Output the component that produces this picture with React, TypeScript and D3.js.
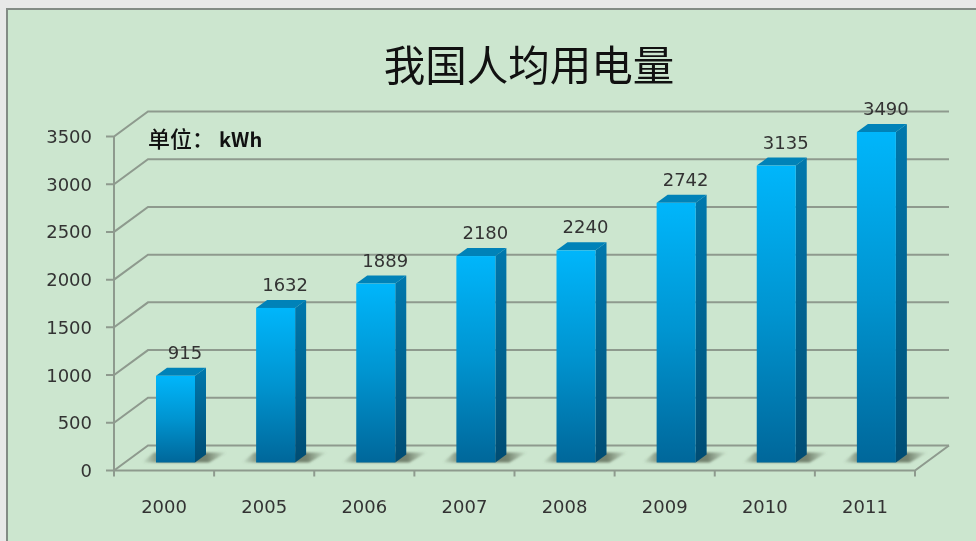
import React from 'react';
import * as d3 from 'd3';

const categories = ['2000', '2005', '2006', '2007', '2008', '2009', '2010', '2011'];
const values = [915, 1632, 1889, 2180, 2240, 2742, 3135, 3490];
const yTicks = [0, 500, 1000, 1500, 2000, 2500, 3000, 3500];

const width = 976;
const height = 541;
const depthX = 34;
const depthY = 25;
const barDepthX = 11;
const barDepthY = 8;
const labelFont = '"DejaVu Sans", sans-serif';
const cjkFont = '"Noto Sans CJK SC", sans-serif';
const gridColor = '#8e9a8e';

export default function App() {
  const x = d3.scaleBand<string>().domain(categories).range([114, 915]);
  const y = d3.scaleLinear().domain([0, 3500]).range([470.5, 136.5]);
  const barY = d3.scaleLinear().domain([0, 3490]).range([462.5, 132]);
  const barWidth = 39;
  const barLeft = (c: string) => (x(c) as number) + 42;

  return (
    <svg
      width={width}
      height={height}
      style={{ position: 'fixed', left: 0, top: 0, display: 'block', filter: 'blur(0.4px)' }}
    >
      <defs>
        <linearGradient id="front" x1="0" y1="0" x2="0" y2="1">
          <stop offset="0" stopColor="#00b6fb" />
          <stop offset="0.5" stopColor="#0094d0" />
          <stop offset="1" stopColor="#00679a" />
        </linearGradient>
        <linearGradient id="side" x1="0" y1="0" x2="0" y2="1">
          <stop offset="0" stopColor="#0078ad" />
          <stop offset="1" stopColor="#004c73" />
        </linearGradient>
        <linearGradient id="shadow" x1="0" y1="0" x2="1" y2="0">
          <stop offset="0" stopColor="#5f6b58" stopOpacity="0" />
          <stop offset="0.22" stopColor="#5f6b58" stopOpacity="0.8" />
          <stop offset="0.76" stopColor="#5f6b58" stopOpacity="0.8" />
          <stop offset="1" stopColor="#5f6b58" stopOpacity="0" />
        </linearGradient>
        <filter id="soft" x="-10%" y="-50%" width="120%" height="200%">
          <feGaussianBlur stdDeviation="1" />
        </filter>
      </defs>

      <rect x={0} y={0} width={width} height={height} fill="#e8e8e8" />
      <rect x={7} y={9} width={width} height={height} fill="#cce6cf" stroke="#838b85" strokeWidth={2} />

      <text x={529} y={81} textAnchor="middle" fontFamily={cjkFont} fontSize={41.5} fontWeight={400} fill="#111">
        我国人均用电量
      </text>

      {/* walls and gridlines */}
      <g fill="none" stroke={gridColor} strokeWidth={2}>
        {yTicks.map(t => (
          <path
            key={t}
            d={`M106,${y(t)}H114L${114 + depthX},${y(t) - depthY}H${915 + depthX}`}
          />
        ))}
        <path d={`M114,${y(3500)}V${y(0)}H915L${915 + depthX},${y(0) - depthY}`} />
        {[...categories.map(c => x(c) as number), 915].map(t => (
          <path key={t} d={`M${t},${y(0)}V${y(0) + 6}`} />
        ))}
      </g>

      <text y={147} fontFamily={cjkFont} fontSize={22} fontWeight={500} fill="#111">
        <tspan x={148}>单位：</tspan>
        <tspan x={219} fontSize={20} fontWeight={700}>kWh</tspan>
      </text>

      {/* y labels */}
      {yTicks.map(t => (
        <text key={t} x={92} y={y(t) + 6.5} textAnchor="end" fontFamily={labelFont} fontSize={18} fill="#333">
          {t}
        </text>
      ))}

      {/* floor shadows */}
      {categories.map(c => {
        const l = barLeft(c);
        const base = barY(0);
        return (
          <path
            key={c}
            d={`M${l - 14},${base}L${l - 2},${base - 10}H${l + barWidth + 32}L${l + barWidth + 14},${base}Z`}
            fill="url(#shadow)"
            filter="url(#soft)"
          />
        );
      })}

      {/* bars */}
      {categories.map((c, i) => {
        const l = barLeft(c);
        const r = l + barWidth;
        const top = barY(values[i]);
        const base = barY(0);
        return (
          <g key={c}>
            <path
              d={`M${r},${top}L${r + barDepthX},${top - barDepthY}V${base - barDepthY}L${r},${base}Z`}
              fill="url(#side)"
            />
            <path
              d={`M${l},${top}L${l + barDepthX},${top - barDepthY}H${r + barDepthX}L${r},${top}Z`}
              fill="#0082b8"
            />
            <rect x={l} y={top} width={barWidth} height={base - top} fill="url(#front)" />
          </g>
        );
      })}

      {/* data labels */}
      {categories.map((c, i) => (
        <text
          key={c}
          x={barLeft(c) + 29}
          y={barY(values[i]) - 17}
          textAnchor="middle"
          fontFamily={labelFont}
          fontSize={18}
          fill="#333"
        >
          {values[i]}
        </text>
      ))}

      {/* category labels */}
      {categories.map(c => (
        <text
          key={c}
          x={(x(c) as number) + x.bandwidth() / 2}
          y={513}
          textAnchor="middle"
          fontFamily={labelFont}
          fontSize={18}
          fill="#333"
        >
          {c}
        </text>
      ))}
    </svg>
  );
}
